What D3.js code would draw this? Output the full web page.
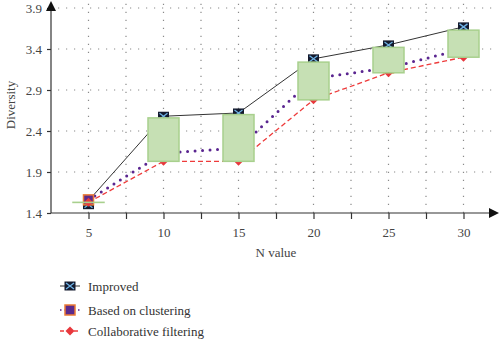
<!DOCTYPE html>
<html><head><meta charset="utf-8">
<script src="https://cdn.jsdelivr.net/npm/d3@7"></script>
<style>body{margin:0;background:#fff}svg{display:block}</style>
</head><body>
<script>
const nValues = [5, 10, 15, 20, 25, 30];
const improved = [1.55, 2.58, 2.62, 3.28, 3.45, 3.67];
const clustering = [1.56, 2.13, 2.19, 3.04, 3.17, 3.40];
const collaborative = [1.53, 2.03, 2.03, 2.78, 3.11, 3.30];
const boxLow = [1.53, 2.03, 2.03, 2.78, 3.11, 3.30];
const boxHigh = [1.53, 2.56, 2.60, 3.24, 3.42, 3.63];
const yTicks = [1.4, 1.9, 2.4, 2.9, 3.4, 3.9];
const xTicks = [5, 10, 15, 20, 25, 30];
const xGrid = [5, 7.5, 10, 12.5, 15, 17.5, 20, 22.5, 25, 27.5, 30];
const seriesNames = ["Improved", "Based on clustering", "Collaborative filtering"];

const W = 500, H = 340;
const svg = d3.select("body").append("svg").attr("width", W).attr("height", H);
const x = d3.scaleLinear().domain([2.5, 32.3]).range([51, 498]);
const y = d3.scaleLinear().domain([1.4, 3.9]).range([213, 8]);
const font = "'Liberation Serif', 'DejaVu Serif', serif";

// grid
const grid = svg.append("g").attr("stroke", "#8a8a8a").attr("stroke-width", 1.2).attr("stroke-dasharray", "1.2,6.8");
grid.selectAll(".gx").data(xGrid).join("line")
  .attr("x1", d => x(d)).attr("x2", d => x(d)).attr("y1", y(1.4)).attr("y2", 2);
grid.selectAll(".gy").data(yTicks.slice(1)).join("line")
  .attr("x1", 58).attr("x2", 497).attr("y1", d => y(d)).attr("y2", d => y(d));

// axes
const xAxis = d3.axisBottom(x).tickValues(xGrid).tickSize(6).tickFormat(d => xTicks.includes(d) ? d : "");
const gx = svg.append("g").attr("transform", `translate(0,${y(1.4)})`).call(xAxis);
gx.select(".domain").attr("d", `M51,0H492`);
const yAxis = d3.axisLeft(y).tickValues(yTicks).tickSize(4).tickFormat(d3.format(".1f"));
const gy = svg.append("g").attr("transform", `translate(51,0)`).call(yAxis);
gy.select(".domain").attr("d", `M0,${y(1.4)}V8`);
[gx, gy].forEach(g => {
  g.selectAll("path,line").attr("stroke", "#333").attr("stroke-width", 1.2);
  g.selectAll("text").attr("font-family", font).attr("font-size", 13).attr("fill", "#444");
});
gx.selectAll("text").attr("dy", "1.15em");
gy.selectAll("text").attr("dx", "-2");
// arrows
svg.append("path").attr("d", `M51,1 L46,11 L56,11 Z`).attr("fill", "#111");
svg.append("path").attr("d", `M499,${y(1.4)} L489,${y(1.4)-5} L489,${y(1.4)+5} Z`).attr("fill", "#111");

svg.append("text").attr("transform", `translate(15,${105}) rotate(-90)`).attr("text-anchor", "middle")
  .attr("font-family", font).attr("font-size", 13).attr("fill", "#444").text("Diversity");
svg.append("text").attr("x", 276).attr("y", 257).attr("text-anchor", "middle")
  .attr("font-family", font).attr("font-size", 13).attr("fill", "#444").text("N value");

const line = d3.line().x((d, i) => x(nValues[i])).y(d => y(d));

// series lines
svg.append("path").attr("d", line(improved)).attr("fill", "none").attr("stroke", "#333").attr("stroke-width", 1);
svg.append("path").attr("d", line(clustering)).attr("fill", "none").attr("stroke", "#5a2590").attr("stroke-width", 3)
  .attr("stroke-linecap", "round").attr("stroke-dasharray", "0,7.5");
svg.append("path").attr("d", line(collaborative)).attr("fill", "none").attr("stroke", "#ee3b3b").attr("stroke-width", 1.3)
  .attr("stroke-dasharray", "5,3");

function markerImproved(g, cx, cy) {
  g.append("rect").attr("x", cx - 5.5).attr("y", cy - 4.5).attr("width", 11).attr("height", 9).attr("fill", "#141a2e");
  g.append("path").attr("d", `M${cx-4},${cy-3}L${cx+4},${cy+3}M${cx+4},${cy-3}L${cx-4},${cy+3}`)
    .attr("stroke", "#6fb3e6").attr("stroke-width", 1.3);
}
function markerCluster(g, cx, cy) {
  g.append("rect").attr("x", cx - 5).attr("y", cy - 5).attr("width", 10).attr("height", 10)
    .attr("fill", "#5b2a8c").attr("stroke", "#ec7a35").attr("stroke-width", 1.5);
}
function markerCF(g, cx, cy) {
  g.append("path").attr("d", `M${cx},${cy-4.5}L${cx+4.5},${cy}L${cx},${cy+4.5}L${cx-4.5},${cy}Z`).attr("fill", "#e8383d");
}
const mk = svg.append("g");
nValues.forEach((n, i) => markerImproved(mk, x(n), y(improved[i]) + (i === 0 ? 4 : 0)));
nValues.forEach((n, i) => markerCluster(mk, x(n), y(clustering[i])));
nValues.forEach((n, i) => markerCF(mk, x(n), y(collaborative[i])));

// boxes
svg.append("g").selectAll("rect").data(nValues).join("rect")
  .attr("x", d => x(d) - 15.5).attr("width", 31)
  .attr("y", (d, i) => y(boxHigh[i])).attr("height", (d, i) => Math.max(0.1, y(boxLow[i]) - y(boxHigh[i])))
  .attr("fill", "#c6e0b4").attr("stroke", "#a8d08d").attr("stroke-width", 1.5);

// legend
const leg = svg.append("g");
const ly = [286, 310, 331];
seriesNames.forEach((name, i) => {
  const g = leg.append("g");
  const ln = g.append("line").attr("x1", 60).attr("x2", 80).attr("y1", ly[i]).attr("y2", ly[i]);
  if (i === 0) { ln.attr("stroke", "#333").attr("stroke-width", 1); markerImproved(g, 70, ly[i]); }
  if (i === 1) { ln.attr("stroke", "#5a2590").attr("stroke-width", 1.5).attr("stroke-dasharray", "1.5,3"); markerCluster(g, 70, ly[i]); }
  if (i === 2) { ln.attr("stroke", "#ee3b3b").attr("stroke-width", 1.3).attr("stroke-dasharray", "4,3"); markerCF(g, 70, ly[i]); }
  g.append("text").attr("x", 88).attr("y", ly[i] + 4.5).attr("font-family", font).attr("font-size", 13)
    .attr("fill", "#333").text(name);
});
</script>
</body></html>
